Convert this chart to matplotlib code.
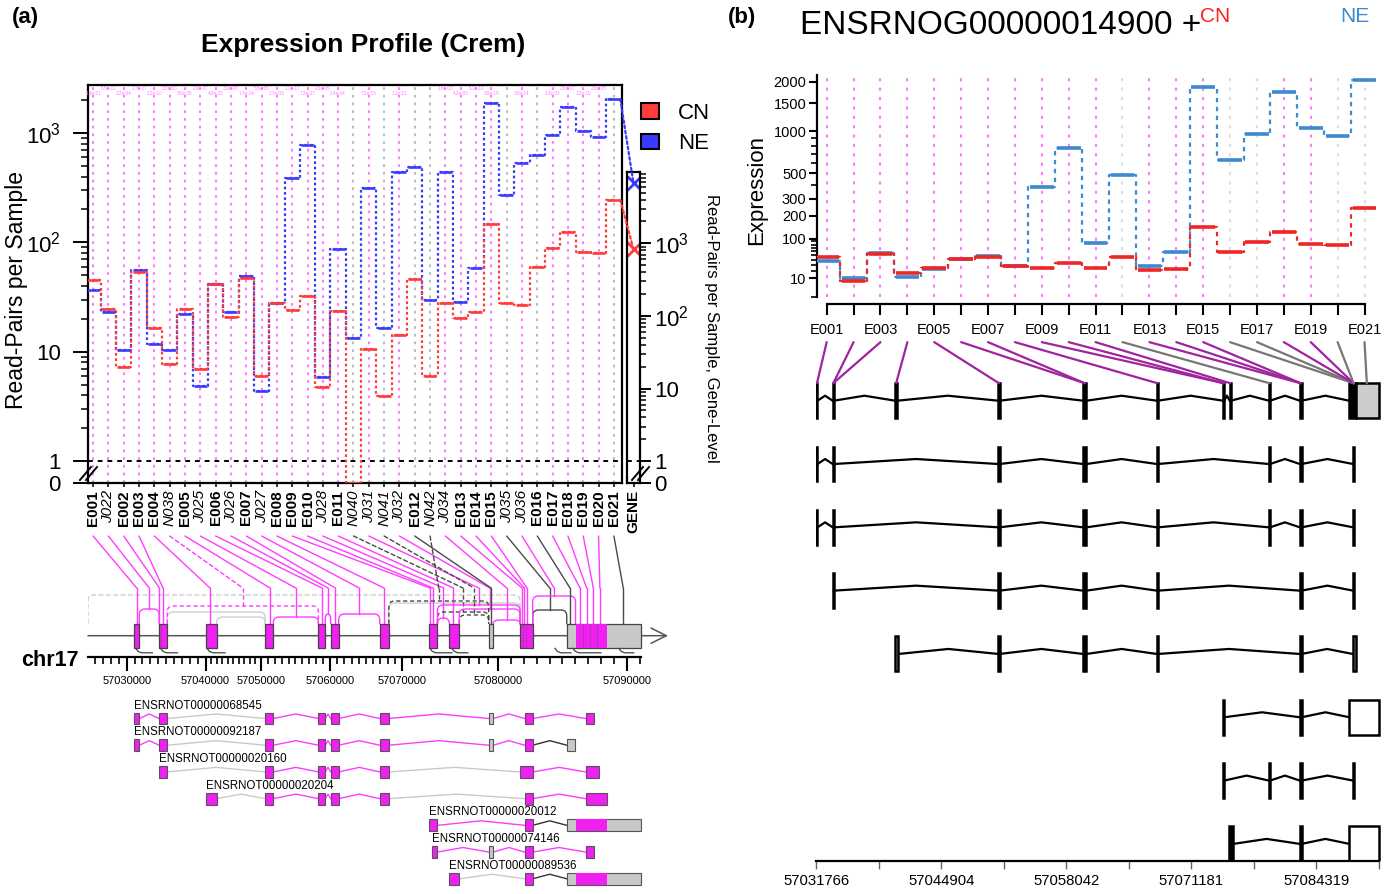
import numpy as np
import matplotlib
matplotlib.use("Agg")
import matplotlib.pyplot as plt
from matplotlib.patches import Rectangle, ConnectionPatch, Patch
from matplotlib.transforms import blended_transform_factory as blend
from matplotlib.ticker import FixedLocator, NullFormatter

plt.rcParams["font.family"] = ["Liberation Sans", "DejaVu Sans"]
plt.rcParams["mathtext.fontset"] = "custom"
plt.rcParams["mathtext.rm"] = "Liberation Sans"
plt.rcParams["mathtext.it"] = "Liberation Sans:italic"
plt.rcParams["mathtext.bf"] = "Liberation Sans:bold"

W, H = 1390, 894

# ---------------- panel (a) data: read-pairs per sample per feature
features = ["E001", "J022", "E002", "E003", "E004", "N038", "E005", "J025", "E006", "J026",
            "E007", "J027", "E008", "E009", "E010", "J028", "E011", "N040", "J031", "N041",
            "J032", "E012", "N042", "J034", "E013", "E014", "E015", "J035", "J036", "E016",
            "E017", "E018", "E019", "E020", "E021"]
cn_counts = [45, 24.6, 7.3, 54, 16.6, 7.8, 24.6, 6.9, 42, 20.6,
             47, 6.0, 28, 23.9, 32.5, 4.8, 23.6, 0, 10.5, 3.9,
             14.2, 46, 6.0, 27.7, 20.2, 23, 146, 27.7, 27, 59,
             88, 124, 82, 80, 244]
ne_counts = [37, 23, 10.4, 56, 11.9, 10.4, 22, 4.85, 42, 23,
             49, 4.4, 27.7, 386, 777, 5.9, 86.5, 13.4, 317, 16.6,
             440, 487, 30, 440, 28.3, 58, 1875, 272, 537, 630,
             955, 1745, 1045, 927, 2040]
gene_cn = 830
gene_ne = 6700
nonsig_a = ["N040", "N041", "E012", "N042", "J035", "E016", "E021"]
pvals = ["1.6e-21", "6.5e-12", "2.2e-04", "1.7e-07", "1.2e-10", "2.6e-03", "3.0e-05", "2.9e-07",
         "4.8e-25", "3.0e-08", "1.7e-24", "5.5e-06", "1.7e-03", "1.7e-17", "7.2e-27", "2.6e-05",
         "2.4e-04", "", "7.2e-15", "", "1.1e-21", "", "", "1.6e-03", "4.2e-03", "6.1e-10",
         "3.0e-15", "", "3.0e-14", "", "1.3e-03", "2.6e-07", "1.2e-10", "2.6e-05", ""]

# gene model (a): exon blocks in genomic coordinates
exons_a = {
    "e1": (57030960, 57031600), "e2": (57034120, 57035150), "e3": (57040000, 57042000),
    "e4": (57050610, 57051780), "e5": (57058320, 57059320), "e6": (57060100, 57061210),
    "e7": (57066900, 57068170), "e8": (57072770, 57073690), "e8b": (57073130, 57073690),
    "e9": (57074930, 57075970), "e10": (57079030, 57079510), "e11": (57081710, 57082690),
    "e11b": (57082060, 57082690), "g1": (57085330, 57085950), "m1": (57086790, 57087460),
    "m2": (57086790, 57087850), "m3": (57086790, 57088470), "box": (57085330, 57091060),
    "bm": (57086010, 57088480),
}
gray_exons = ["e10", "g1", "box"]
model_exons = ["e1", "e2", "e3", "e4", "e5", "e6", "e7", "e8", "e9", "e10", "e11", "box"]
exon_dividers = [57034370, 57081960, 57082160, 57086600, 57087130, 57087650]
exon_hooks = [(57031140, 57033260), (57034300, 57036460), (57040270, 57043520),
              (57072900, 57075200), (57075200, 57076870), (57084420, 57085660),
              (57085810, 57087980), (57089360, 57090520)]
exon_feature_pos = {
    "E001": 57031270, "E002": 57034160, "E003": 57034610, "E004": 57040810, "E005": 57051300,
    "E006": 57058840, "E007": 57060740, "E008": 57067500, "E009": 57072920, "E010": 57073230,
    "E011": 57075350, "E012": 57079270, "E013": 57081860, "E014": 57082050, "E015": 57082250,
    "E016": 57085580, "E017": 57086360, "E018": 57086870, "E019": 57087390, "E020": 57087900,
    "E021": 57089710,
}
# junction features: (from exon, to exon, arc top in px-rows of the model strip)
junctions_a = {
    "J022": ("e1", "e2", 609), "N038": ("e2", "e5", 606), "J025": ("e4", "e5", 617),
    "J026": ("e5", "e6", 614), "J027": ("e6", "e7", 614), "J028": ("e8", "e9", 618),
    "N040": ("e8", "e10", 612), "J031": ("e8", "e11", 605), "N041": ("e9", "e10", 615),
    "J032": ("e9", "e11", 609), "N042": ("e7", "e10", 601), "J034": ("e10", "e11", 620),
    "J035": ("e11", "box", 610), "J036": ("e11", "bm", 596),
}
extra_arcs = [("e2", "e4", 612, "-"), ("e3", "e4", 617, "-"), ("e7", "e11", 603, "-"),
              ("start", "e11", 595, "--")]

tx_names = ["ENSRNOT00000068545", "ENSRNOT00000092187", "ENSRNOT00000020160",
            "ENSRNOT00000020204", "ENSRNOT00000020012", "ENSRNOT00000074146",
            "ENSRNOT00000089536"]
tx_parts = [["e1", "e2", "e4", "e5", "e6", "e7", "e10", "e11b", "m1"],
            ["e1", "e2", "e4", "e5", "e6", "e7", "e10", "e11b", "g1"],
            ["e2", "e4", "e5", "e6", "e7", "e11", "m2"],
            ["e3", "e4", "e5", "e6", "e7", "e11b", "m3"],
            ["e8", "e11b", "box"],
            ["e8b", "e10", "e11b", "m1"],
            ["e9", "e11b", "box"]]
tx_links = [["m", "g", "m", "m", "m", "m", "m", "m"],
            ["m", "g", "m", "m", "m", "m", "m", "k"],
            ["g", "m", "m", "m", "g", "m"],
            ["g", "m", "m", "m", "g", "m"],
            ["m", "k"],
            ["m", "m", "m"],
            ["g", "k"]]

# ---------------- panel (b) data (DEXSeq view of the same exons)
exon_ids = [f for f in features if f.startswith("E")]
cn_b = [v for f, v in zip(features, cn_counts) if f.startswith("E")]
ne_b = [v for f, v in zip(features, ne_counts) if f.startswith("E")]
nonsig_b = ["E012", "E016", "E017", "E020", "E021"]
b_targets = [57031845, 57033560, 57033560, 57040170, 57050980, 57059990, 57059990,
             57067630, 57074590, 57074590, 57075280, 57079410, 57082690, 57082690,
             57082690, 57088250, 57088250, 57088250, 57088250, 57088250, 57089640]
B_START = 57031766
b_rows = [
    [(57031790, 57031900, "k"), (57033500, 57033620, "k"), (57040060, 57040280, "p"),
     (57050920, 57051040, "k"), (57059820, 57060160, "k"), (57067570, 57067690, "k"),
     (57074530, 57074650, "k"), (57075220, 57075340, "k"), (57079350, 57079470, "k"),
     (57082600, 57082780, "k"), (57087780, 57088520, "k"), (57088520, 57090900, "g")],
    [(57031790, 57031900, "k"), (57033500, 57033620, "k"), (57050920, 57051040, "k"),
     (57059820, 57060160, "k"), (57067570, 57067690, "k"), (57079350, 57079470, "k"),
     (57082600, 57082780, "k"), (57088200, 57088320, "k")],
    [(57031790, 57031900, "k"), (57033500, 57033620, "k"), (57050920, 57051040, "k"),
     (57059820, 57060160, "k"), (57067570, 57067690, "k"), (57079350, 57079470, "k"),
     (57082600, 57082780, "k"), (57088200, 57088320, "k")],
    [(57033500, 57033620, "k"), (57050920, 57051040, "k"), (57059820, 57060160, "k"),
     (57067570, 57067690, "k"), (57082600, 57082780, "k"), (57088200, 57088320, "k")],
    [(57040000, 57040400, "g"), (57050920, 57051040, "k"), (57059820, 57060160, "k"),
     (57067570, 57067690, "k"), (57082600, 57082780, "k"), (57088150, 57088450, "g")],
    [(57074530, 57074650, "k"), (57082600, 57082780, "k"), (57087800, 57090900, "w")],
    [(57074530, 57074650, "k"), (57079350, 57079470, "k"), (57082600, 57082780, "k"),
     (57088200, 57088320, "k")],
    [(57075200, 57075600, "k"), (57082600, 57082780, "k"), (57087800, 57090900, "w")],
]

RED, BLUE = "#FF3B3B", "#3B3BFF"
RED_B, BLUE_B = "#EE2626", "#3D8AD0"
MAG, MAG_LN, MAG_LT = "#F020F0", "#FF3CFF", "#FF7AFF"
GRAY, GRAY_LT, DARK = "#C8C8C8", "#BDBDBD", "#4A4A4A"
PURP = "#A023A0"
BFILL = {"w": "white", "p": "#7A1A7A", "g": "#CCCCCC", "k": "black"}
LINKC = {"m": MAG_LN, "g": "#C8C8C8", "k": "#333333"}


def rect(l, t, r, b):
    return [l / W, 1 - b / H, (r - l) / W, (b - t) / H]


def fwd_a(v):
    v = np.asarray(v, dtype=float)
    return np.where(v >= 1, np.log10(np.clip(v, 1, None)), 0.2 * (v - 1))


def inv_a(u):
    u = np.asarray(u, dtype=float)
    return np.where(u >= 0, 10 ** np.clip(u, 0, None), 1 + u / 0.2)


def fwd_g(v):
    v = np.asarray(v, dtype=float)
    return np.where(v >= 1, np.log10(np.clip(v, 1, None)), 0.3 * (v - 1))


def inv_g(u):
    u = np.asarray(u, dtype=float)
    return np.where(u >= 0, 10 ** np.clip(u, 0, None), 1 + u / 0.3)


def fwd_b(v):
    v = np.asarray(v, dtype=float)
    return np.sign(v) * np.arcsinh(np.sqrt(0.001 * np.abs(v)))


def inv_b(u):
    u = np.asarray(u, dtype=float)
    return np.sign(u) * np.sinh(np.abs(u)) ** 2 / 0.001


# compressed genomic axis used by the left gene model
GEN_ANCH = [56000000, 57025090, 57030000, 57040000, 57050000, 57060000,
            57070000, 57080000, 57090000, 57093180, 58000000]
FRAC_ANCH = [-13.93, 0.0, 0.0667, 0.2026, 0.2983, 0.4172, 0.5414, 0.7069, 0.9293, 1.0, 21.17]
GX0, GX1 = 57025090, 57093180


def gx_fwd(g):
    return np.interp(np.asarray(g, dtype=float), GEN_ANCH, FRAC_ANCH)


def gx_inv(f):
    return np.interp(np.asarray(f, dtype=float), FRAC_ANCH, GEN_ANCH)


def arc_xy(g1, g2, top, base, rx=0.0103, ry=6.0):
    f1, f2 = float(gx_fwd(g1)), float(gx_fwd(g2))
    rx = min(rx, (f2 - f1) / 2)
    ry = min(ry, base - top)
    t = np.linspace(0, 1, 8)
    c1x = (1 - t) ** 2 * f1 + 2 * (1 - t) * t * f1 + t ** 2 * (f1 + rx)
    c1y = (1 - t) ** 2 * (top + ry) + 2 * (1 - t) * t * top + t ** 2 * top
    c2x = (1 - t) ** 2 * (f2 - rx) + 2 * (1 - t) * t * f2 + t ** 2 * f2
    c2y = (1 - t) ** 2 * top + 2 * (1 - t) * t * top + t ** 2 * (top + ry)
    fx = np.concatenate([[f1], c1x, c2x, [f2]])
    fy = np.concatenate([[base], c1y, c2y, [base]])
    return gx_inv(fx), fy


def zigzag(g1, g2, y, h):
    f1, f2 = float(gx_fwd(g1)), float(gx_fwd(g2))
    return gx_inv([f1, (f1 + f2) / 2, f2]), [y, y - h, y]


fig = plt.figure(figsize=(W / 100, H / 100), dpi=100)

# ================= panel (a) expression profile
ax = fig.add_axes(rect(88, 85, 622, 483))
ax.set_yscale("function", functions=(fwd_a, inv_a))
ax.set_xlim(-0.33, len(features) - 0.47)
ax.set_ylim(0, 2750)
xs = np.arange(len(features))
for i, f in enumerate(features):
    ax.axvline(i, color=GRAY_LT if f in nonsig_a else MAG_LT, lw=1.5,
               ls=(0, (1.3, 2.4)), zorder=1)
ax.axhline(1, color="black", lw=1.4, ls=(0, (2.5, 2.5)), zorder=2)
for vals, col in ((ne_counts, BLUE), (cn_counts, RED)):
    ax.plot(xs, vals, drawstyle="steps-mid", color=col, lw=1.6, ls=(0, (1.2, 1.2)), zorder=3)
    ax.hlines(vals, xs - 0.42, xs + 0.42, color=col, lw=1.9, zorder=4)
top_tr = blend(ax.transData, ax.transAxes)
for i, p in enumerate(pvals):
    if p:
        ax.text(i, 1 - (3 if i % 2 else 8) / 398, p, transform=top_tr, fontsize=3.3,
                color=MAG_LT, ha="center", va="center")

ax.set_yticks([0, 1, 10, 100, 1000])
ax.set_yticklabels(["0", "1", "10", "$10^2$", "$10^3$"])
minor_a = [m * 10 ** k for k in range(4) for m in range(2, 10) if m * 10 ** k < 2750]
ax.yaxis.set_minor_locator(FixedLocator(minor_a))
ax.yaxis.set_minor_formatter(NullFormatter())
ax.tick_params(axis="y", which="major", length=10.5, width=1.4, labelsize=16, pad=9)
ax.tick_params(axis="y", which="minor", length=5.3, width=1.1)
ax.set_xticks(xs)
ax.set_xticklabels(features, rotation=90)
ax.tick_params(axis="x", length=3, width=1.1, labelsize=11, pad=2)
for lab, f in zip(ax.get_xticklabels(), features):
    if f.startswith("E"):
        lab.set_fontweight("bold")
    else:
        lab.set_fontstyle("italic")
for s in ax.spines.values():
    s.set_linewidth(1.6)
for dx in (0, 6):
    ax.plot([(-8 + dx) / 534, (3 + dx) / 534], [3 / 398, 16 / 398], transform=ax.transAxes,
            color="black", lw=1.4, clip_on=False)

fig.text(17 / W, 1 - 290 / H, "Read-Pairs per Sample", rotation=90, fontsize=16.5,
         ha="center", va="center")
fig.text(363 / W, 1 - 45 / H, "Expression Profile (Crem)", fontsize=19, fontweight="bold",
         ha="center", va="center")
fig.text(25 / W, 1 - 18 / H, "(a)", fontsize=16, fontweight="bold", ha="center", va="center")

# gene-level column
axg = fig.add_axes(rect(627, 172, 640, 483))
axg.set_yscale("function", functions=(fwd_g, inv_g))
axg.set_ylim(0, 9600)
axg.set_xlim(-0.5, 0.5)
axg.axhline(1, color="black", lw=1.4, ls=(0, (2.5, 2.5)))
axg.plot([0], [gene_ne], marker="x", color=BLUE, ms=10, mew=2)
axg.plot([0], [gene_cn], marker="x", color=RED, ms=10, mew=2)
axg.yaxis.tick_right()
axg.set_yticks([0, 1, 10, 100, 1000])
axg.set_yticklabels(["0", "1", "10", "$10^2$", "$10^3$"])
minor_g = [m * 10 ** k for k in range(4) for m in range(2, 10)]
axg.yaxis.set_minor_locator(FixedLocator(minor_g))
axg.yaxis.set_minor_formatter(NullFormatter())
axg.tick_params(axis="y", which="major", length=8, width=1.4, labelsize=16, pad=2)
axg.tick_params(axis="y", which="minor", length=4.5, width=1.1)
axg.set_xticks([0])
axg.set_xticklabels(["GENE"], rotation=90, fontweight="bold")
axg.tick_params(axis="x", length=3, width=1.1, labelsize=11, pad=2)
for s in axg.spines.values():
    s.set_linewidth(1.6)
for dx in (0, 6):
    axg.plot([(-8 + dx) / 13 + 1, (3 + dx) / 13 + 1], [3 / 311, 16 / 311],
             transform=axg.transAxes, color="black", lw=1.4, clip_on=False)
for vals, gv, col in ((ne_counts, gene_ne, BLUE), (cn_counts, gene_cn, RED)):
    con = ConnectionPatch(xyA=(len(features) - 0.58, vals[-1]), coordsA=ax.transData,
                          xyB=(0, gv), coordsB=axg.transData, color=col, lw=1.6,
                          ls=(0, (1.2, 1.2)))
    fig.add_artist(con)
fig.text(712 / W, 1 - 328 / H, "Read-Pairs per Sample, Gene-Level", rotation=270,
         fontsize=12, ha="center", va="center")
ax.legend(handles=[Patch(facecolor=RED, edgecolor="black", lw=1.5),
                   Patch(facecolor=BLUE, edgecolor="black", lw=1.5)],
          labels=["CN", "NE"], loc="upper left", bbox_to_anchor=(641 / W, 1 - 103 / H),
          bbox_transform=fig.transFigure, frameon=False, fontsize=16, handlelength=0.82,
          handleheight=0.7, handletextpad=0.85, labelspacing=0.42, borderpad=0,
          borderaxespad=0)

# gene model strip
axm = fig.add_axes(rect(88, 538, 668, 656.7))
axm.set_xscale("function", functions=(gx_fwd, gx_inv))
axm.set_xlim(GX0, GX1)
axm.set_ylim(656.7, 538)
axm.patch.set_visible(False)
for s in ("top", "left", "right"):
    axm.spines[s].set_visible(False)
axm.spines["bottom"].set_bounds(GX0, exons_a["box"][1])
axm.spines["bottom"].set_linewidth(1.6)
axm.set_yticks([])
majors = list(range(57030000, 57090001, 10000))
axm.set_xticks(majors)
axm.set_xticklabels([str(m) for m in majors])
axm.xaxis.set_minor_locator(FixedLocator(list(range(57026000, 57091001, 1000))))
axm.tick_params(axis="x", which="major", length=10, width=1.5, labelsize=8, pad=4)
axm.tick_params(axis="x", which="minor", length=4.8, width=1.2)
axm.annotate("", xy=(GX1, 635.7), xytext=(GX0, 635.7),
             arrowprops=dict(arrowstyle="->,head_length=1.1,head_width=0.55",
                             color="#555555", lw=1.1, shrinkA=0, shrinkB=0), zorder=1)
EX_TOP, EX_H = 623.7, 24.6


def exon_end(k):
    return GX0 if k == "start" else exons_a[k][1]


for a, b, top, ls in extra_arcs:
    xa, ya = arc_xy(exon_end(a), exons_a[b][0], top, EX_TOP)
    axm.plot(xa, ya, color="#CFCFCF", lw=1.0, ls=ls, zorder=2)
conn_tr = blend(ax.transData, axm.transData)
for i, f in enumerate(features):
    col = DARK if f in nonsig_a else MAG_LN
    ls = (0, (3, 2)) if f.startswith("N") else "-"
    if f.startswith("E"):
        tg, drop = exon_feature_pos[f], EX_TOP
    else:
        a, b, top = junctions_a[f]
        xa, ya = arc_xy(exons_a[a][1], exons_a[b][0], top, EX_TOP)
        axm.plot(xa, ya, color=col, lw=1.0, ls=ls, zorder=3)
        tg = float(gx_inv((gx_fwd(exons_a[a][1]) + gx_fwd(exons_a[b][0])) / 2))
        drop = top
    fig.add_artist(ConnectionPatch(xyA=(i, 536), coordsA=conn_tr, xyB=(tg, 588),
                                   coordsB=axm.transData, color=col, lw=1.0, ls=ls))
    axm.plot([tg, tg], [588, drop], color=col, lw=1.0, ls=ls, zorder=3)
for k in model_exons:
    s, e = exons_a[k]
    axm.add_patch(Rectangle((s, EX_TOP), e - s, EX_H, facecolor=GRAY if k in gray_exons else MAG,
                            edgecolor="#444444", lw=0.9, zorder=4))
s, e = exons_a["bm"]
axm.add_patch(Rectangle((s, EX_TOP), e - s, EX_H, facecolor=MAG, edgecolor="none", zorder=5))
for d in exon_dividers:
    axm.plot([d, d], [EX_TOP, EX_TOP + EX_H], color="#555555", lw=0.7, ls=":", zorder=6)
for hs, he in exon_hooks:
    fh = float(gx_fwd(hs))
    hx = gx_inv([fh, fh + 0.004, fh + 0.01, float(gx_fwd(he))])
    axm.plot(hx, [EX_TOP + EX_H, EX_TOP + EX_H + 3, EX_TOP + EX_H + 4.5, EX_TOP + EX_H + 4.5],
             color="#444444", lw=0.9, zorder=6)
fig.text(50 / W, 1 - 660 / H, "chr17", fontsize=15.5, fontweight="bold", ha="center",
         va="center")

# transcripts (a)
axt = fig.add_axes(rect(88, 690, 668, 894))
axt.set_xscale("function", functions=(gx_fwd, gx_inv))
axt.set_xlim(GX0, GX1)
axt.set_ylim(6.57, -1.067)
axt.axis("off")
for k, (name, parts, links) in enumerate(zip(tx_names, tx_parts, tx_links)):
    for j in range(len(parts) - 1):
        xz, yz = zigzag(exons_a[parts[j]][1], exons_a[parts[j + 1]][0], k, 0.17)
        axt.plot(xz, yz, color=LINKC[links[j]], lw=1.0, zorder=1)
    for p in parts:
        s, e = exons_a[p]
        axt.add_patch(Rectangle((s, k - 0.22), e - s, 0.44,
                                facecolor=GRAY if p in gray_exons else MAG,
                                edgecolor="#555555", lw=0.8, zorder=2))
        if p == "box":
            bs, be = exons_a["bm"]
            axt.add_patch(Rectangle((bs, k - 0.22), be - bs, 0.44, facecolor=MAG,
                                    edgecolor="none", zorder=3))
    axt.text(exons_a[parts[0]][0], k - 0.26, name, fontsize=8.3, ha="left", va="bottom")

# ================= panel (b)
fig.text(742 / W, 1 - 18 / H, "(b)", fontsize=16, fontweight="bold", ha="center", va="center")
fig.text(800 / W, 1 - 25 / H, "ENSRNOG00000014900 +", fontsize=24, ha="left", va="center")
fig.text(1200 / W, 1 - 16 / H, "CN", fontsize=15, color="#FF2020", ha="left", va="center")
fig.text(1340 / W, 1 - 16 / H, "NE", fontsize=15, color=BLUE_B, ha="left", va="center")

axb = fig.add_axes(rect(817, 75, 1382, 297))
axb.set_yscale("function", functions=(fwd_b, inv_b))
axb.set_ylim(0, 2180)
axb.set_xlim(-0.36, 20.65)
xb = np.arange(len(exon_ids))
for i, e in enumerate(exon_ids):
    axb.axvline(i, color="#DCDCDC" if e in nonsig_b else MAG_LT, lw=1.5,
                ls=(0, (1.5, 3)), zorder=1)
for vals, col in ((ne_b, BLUE_B), (cn_b, RED_B)):
    axb.plot(xb, vals, drawstyle="steps-mid", color=col, lw=1.6, ls=(0, (2, 2)), zorder=3)
    axb.hlines(vals, xb - 0.44, xb + 0.44, color=col, lw=2.6, zorder=4)
axb.spines["top"].set_visible(False)
axb.spines["right"].set_visible(False)
axb.spines["left"].set_linewidth(1.6)
axb.spines["bottom"].set_linewidth(1.6)
axb.spines["bottom"].set_position(("outward", 5))
axb.spines["bottom"].set_bounds(0, len(exon_ids) - 1)
axb.set_xticks(xb)
axb.set_xticklabels([e if i % 2 == 0 else "" for i, e in enumerate(exon_ids)])
axb.tick_params(axis="x", length=8, width=1.5, labelsize=10.5, pad=6)
yb_major = [10, 100, 200, 300, 500, 1000, 1500, 2000]
axb.set_yticks(yb_major)
axb.set_yticklabels([str(v) for v in yb_major])
axb.yaxis.set_minor_locator(FixedLocator([0, 20, 30, 40, 50, 60, 70, 80, 90, 400,
                                          600, 700, 800, 900]))
axb.yaxis.set_minor_formatter(NullFormatter())
axb.tick_params(axis="y", which="major", length=5.5, width=1.5, labelsize=10.5, pad=2)
axb.tick_params(axis="y", which="minor", length=4, width=1.2)
fig.text(757 / W, 1 - 190 / H, "Expression", rotation=90, fontsize=16, ha="center",
         va="center")

axr = fig.add_axes(rect(816.2, 336, 1382, 861))
axr.set_xlim(B_START, B_START + 565.8 * 105.1)
axr.set_ylim(7.27, -1.022)
axr.patch.set_visible(False)
for s in ("top", "left", "right"):
    axr.spines[s].set_visible(False)
b_ticks = B_START + np.arange(10) * 6569.125
axr.spines["bottom"].set_bounds(b_ticks[0], b_ticks[-1])
axr.spines["bottom"].set_linewidth(1.6)
axr.set_yticks([])
axr.set_xticks(b_ticks)
axr.set_xticklabels([str(int(round(t))) if k % 2 == 0 else "" for k, t in enumerate(b_ticks)])
axr.tick_params(axis="x", length=5.5, width=1.0, labelsize=10.7, pad=4, color="#666666")
for k, row in enumerate(b_rows):
    for (s1, e1, _), (s2, e2, _) in zip(row[:-1], row[1:]):
        axr.plot([e1, (e1 + s2) / 2, s2], [k, k - 0.079, k], color="black", lw=1.6, zorder=1)
    for s, e, fc in row:
        axr.add_patch(Rectangle((s, k - 0.276), e - s, 0.552, facecolor=BFILL[fc],
                                edgecolor="black", lw=1.8, zorder=2))
b_tr = blend(axb.transData, axr.transData)
for i, e in enumerate(exon_ids):
    fig.add_artist(ConnectionPatch(xyA=(i, -0.925), coordsA=b_tr, xyB=(b_targets[i], -0.276),
                                   coordsB=axr.transData,
                                   color="#777777" if e in nonsig_b else PURP, lw=1.6))

fig.savefig("out.png", dpi=100)
